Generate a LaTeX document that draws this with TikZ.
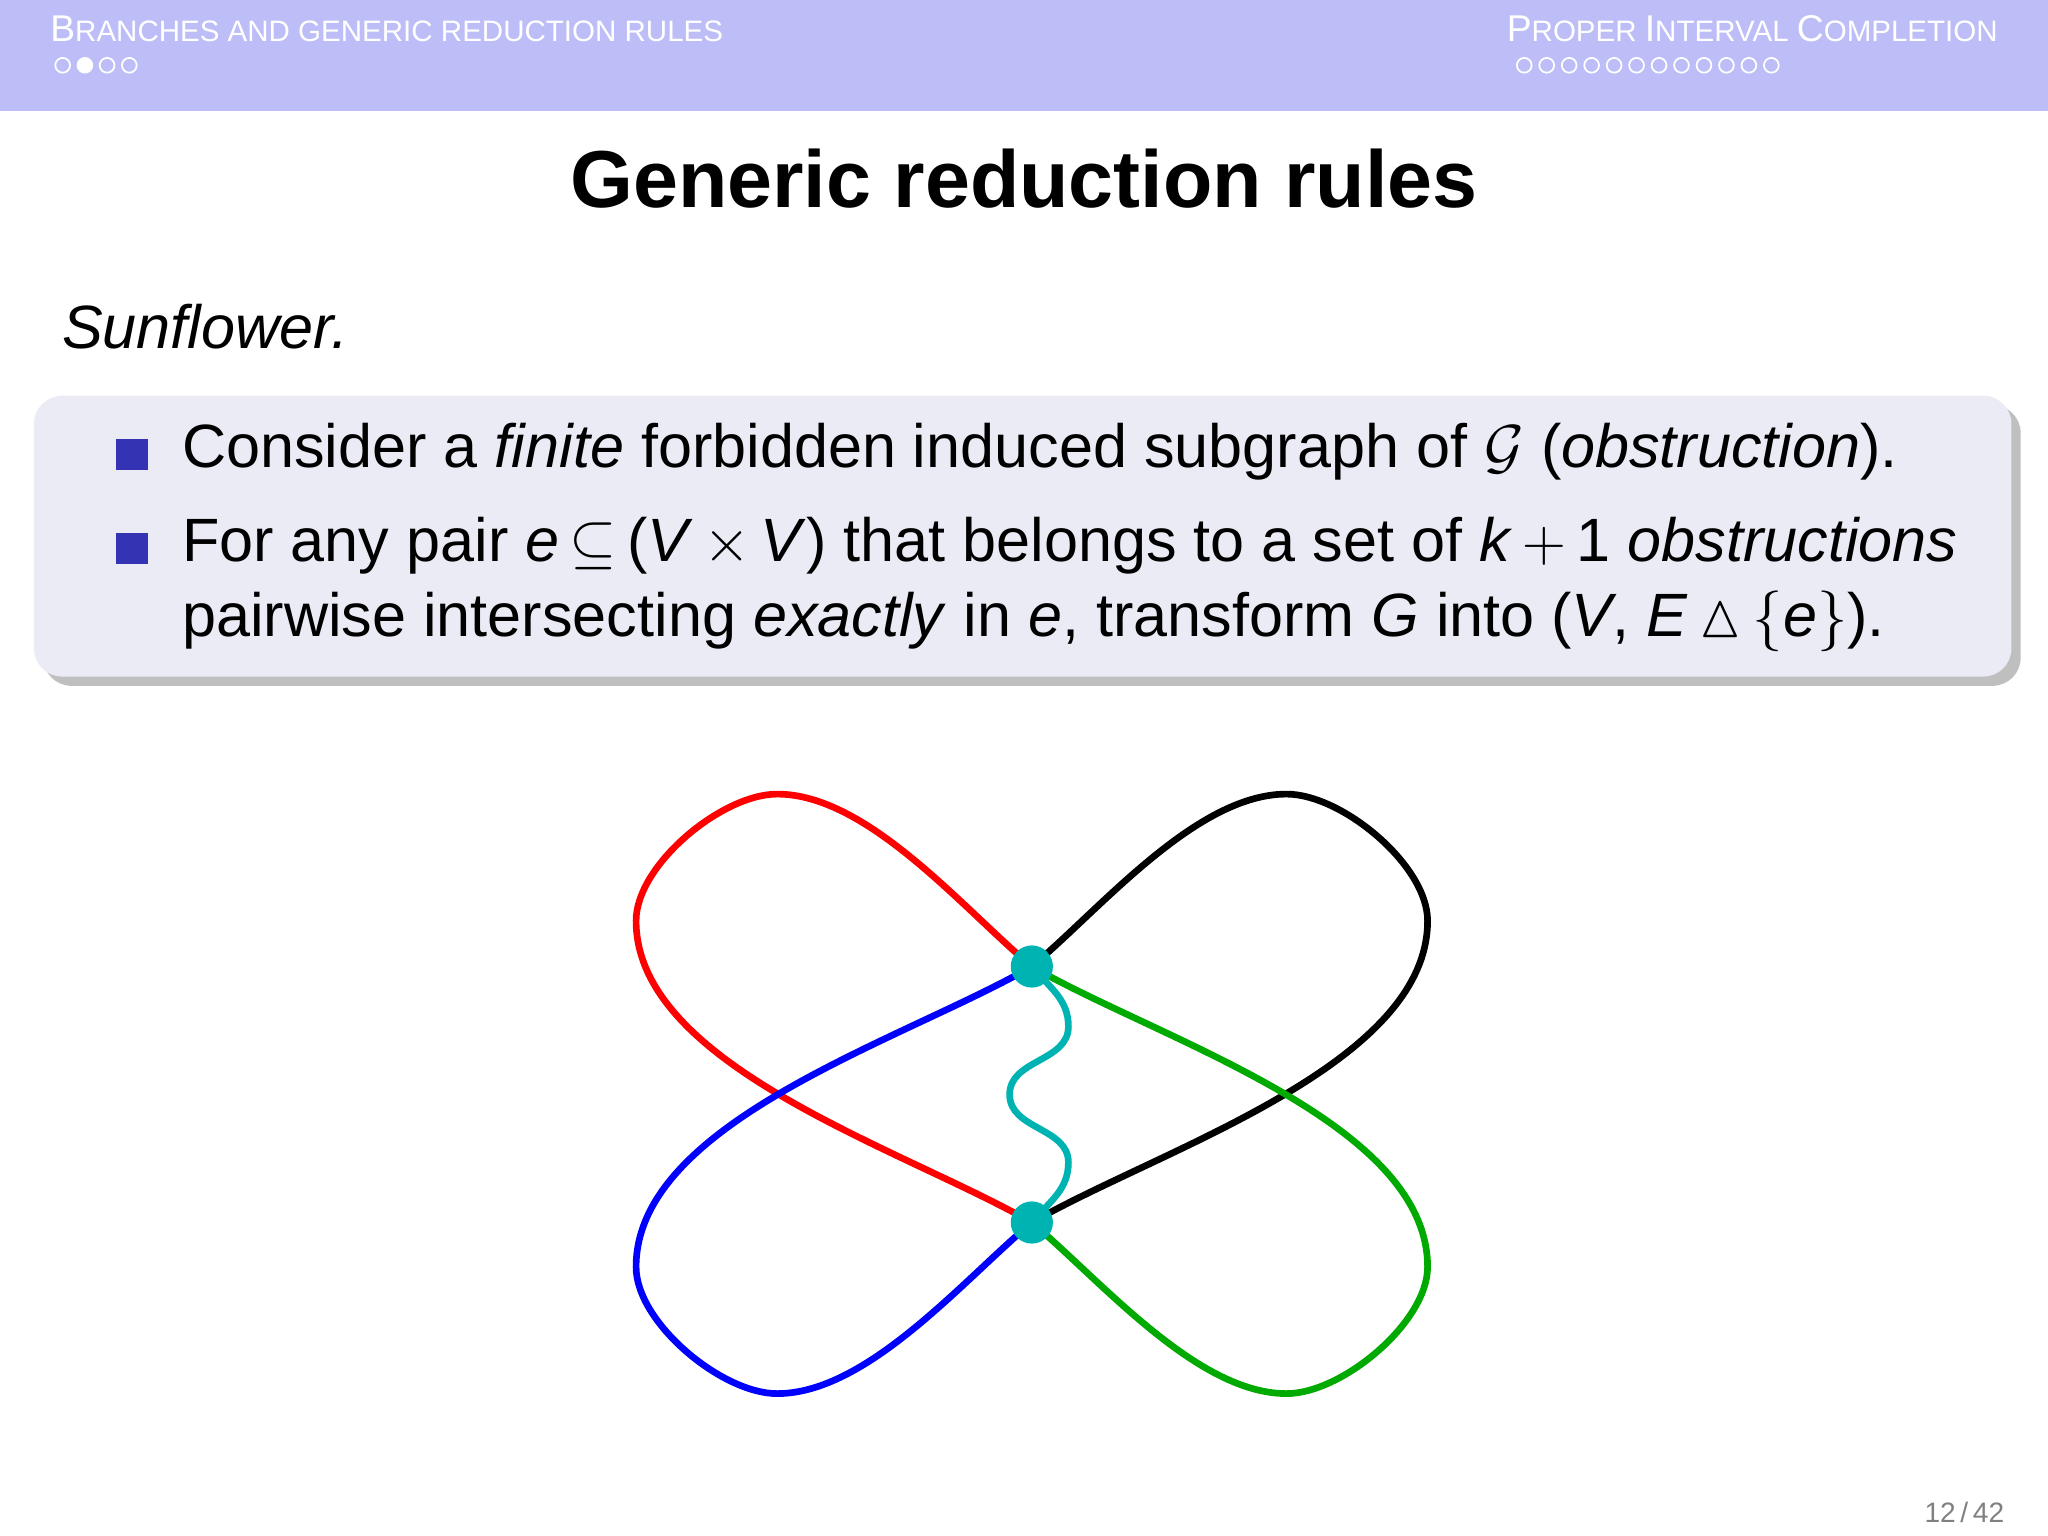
\documentclass[tikz,border=0pt]{standalone}
\usepackage{fontspec}
\usepackage{amsmath,amssymb}
\setmainfont{Liberation Sans}
\usetikzlibrary{shadows}
\definecolor{headbg}{HTML}{BDBDF7}
\definecolor{boxbg}{HTML}{EBEBF5}
\definecolor{bulletblue}{HTML}{3333B3}
\definecolor{loopgreen}{HTML}{00AA00}
\definecolor{vtxteal}{HTML}{00B3B3}
\newcommand{\itx}[1]{\textit{#1}}
\begin{document}
\begin{tikzpicture}[x=0.013061cm, y=0.013061cm, line cap=round,
    petal/.style={line width=1.9pt, looseness=0.75},
    vtx/.style={circle, fill=vtxteal, inner sep=0pt, minimum size=12pt},
    navdot/.style={circle, draw=white, line width=0.5pt, inner sep=0pt, minimum size=4.2pt},
    bullet/.style={fill=bulletblue, inner sep=0pt, minimum size=9pt},
    body/.style={anchor=west, font=\fontsize{17.4}{20}\selectfont}]
    \useasboundingbox (0,0) rectangle (1568,1176);
    % header
    \fill[headbg] (0,1091) rectangle (1568,1176);
    \node[anchor=west, text=white, font=\fontsize{10.6}{11}\selectfont, inner sep=0pt] (sec) at (38,1154) {B{\fontsize{8.4}{9}\selectfont RANCHES AND GENERIC REDUCTION RULES}};
    \node[anchor=east, text=white, font=\fontsize{10.6}{11}\selectfont, inner sep=0pt] (subsec) at (1530,1154) {P{\fontsize{8.4}{9}\selectfont ROPER }I{\fontsize{8.4}{9}\selectfont NTERVAL }C{\fontsize{8.4}{9}\selectfont OMPLETION}};
    \foreach \i in {0,...,3} {
        \node[navdot] (l\i) at (48+17*\i,1126) {};
    };
    \fill[white] (l1) circle (2.1pt);
    \foreach \i in {0,...,11} {
        \node[navdot] (r\i) at (1167+17.2*\i,1126) {};
    };
    % title
    \node[font=\fontsize{23}{26}\selectfont\bfseries] (title) at (784,1039) {Generic reduction rules};
    \node[anchor=west, font=\fontsize{17.4}{20}\selectfont\itshape] (sunf) at (38,926) {Sunflower.};
    % block
    \fill[boxbg, rounded corners=8pt, drop shadow={opacity=0.5}] (26,658) rectangle (1540,873);
    \node[bullet] (b1) at (101,828) {};
    \node[bullet] (b2) at (101,756) {};
    \node[body] (t1) at (130,830) {Consider a \itx{finite} forbidden induced subgraph of $\mathcal{G}$ (\itx{obstruction}).};
    \node[body] (t2) at (130,758) {For any pair \itx{e}\,$\subseteq$\,(\itx{V}\,$\times$\,\itx{V}) that belongs to a set of \itx{k}\,$+$\,1 \itx{obstructions}};
    \node[body] (t3) at (130,700) {pairwise intersecting \itx{exactly} in \itx{e}, transform \itx{G} into (\itx{V}, \itx{E}\,$\vartriangle$\,$\{$\itx{e}$\}$).};
    % sunflower
    \coordinate (A) at (790,436);
    \coordinate (B) at (790,240);
    \draw[petal, red] (A) to[out=140,in=0] (595,568) to[out=180,in=90] (487,471) to[out=-90,in=150] (B);
    \draw[petal, blue] (A) to[out=-150,in=90] (487,206) to[out=-90,in=180] (595,109) to[out=0,in=-140] (B);
    \draw[petal, black] (A) to[out=40,in=180] (985,568) to[out=0,in=90] (1093,471) to[out=-90,in=30] (B);
    \draw[petal, loopgreen] (A) to[out=-30,in=90] (1093,206) to[out=-90,in=0] (985,109) to[out=180,in=-40] (B);
    \draw[line width=1.9pt, vtxteal] (A) to[out=-50,in=90] (818,390) to[out=-90,in=90] (773,338) to[out=-90,in=90] (818,286) to[out=-90,in=50] (B);
    \node[vtx] (a) at (A) {};
    \node[vtx] (b) at (B) {};
    % page number
    \node[anchor=east, text=gray, font=\fontsize{8}{9}\selectfont] (page) at (1544,18) {12\,/\,42};
\end{tikzpicture}
\end{document}
